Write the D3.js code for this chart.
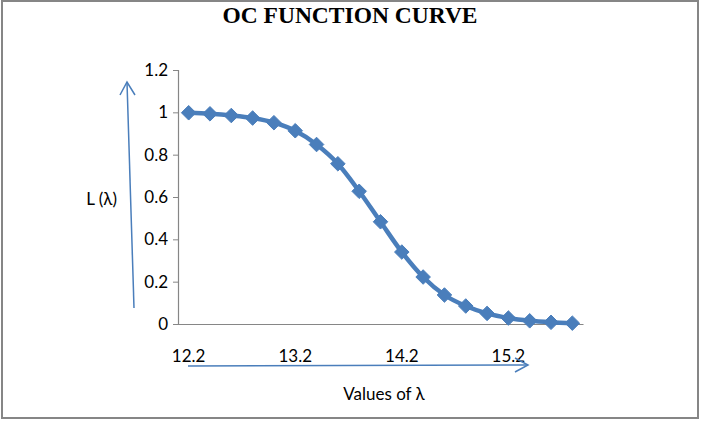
<!DOCTYPE html>
<html>
<head>
<meta charset="utf-8">
<script src="https://cdn.jsdelivr.net/npm/d3@7"></script>
<style>
  body { margin: 0; background: #fff; }
  svg { display: block; }
</style>
</head>
<body>
<div id="chart"></div>
<script>
// lambda values (categories) and probability of acceptance L(lambda)
const lambdas = [12.2, 12.4, 12.6, 12.8, 13.0, 13.2, 13.4, 13.6, 13.8, 14.0,
                 14.2, 14.4, 14.6, 14.8, 15.0, 15.2, 15.4, 15.6, 15.8];
const acceptance = [0.998, 0.993, 0.985, 0.973, 0.951, 0.913, 0.848, 0.757, 0.627, 0.483,
                    0.340, 0.222, 0.137, 0.085, 0.050, 0.028, 0.015, 0.008, 0.004];
const xTickLabels = ["12.2", "13.2", "14.2", "15.2"];
const yTicks = [0, 0.2, 0.4, 0.6, 0.8, 1, 1.2];

const width = 702, height = 424;
const plot = { left: 178, right: 583, top: 70, bottom: 324 };
const blue = "#4a7ebb";
const font = "Lato, 'Open Sans', sans-serif";
const fontSize = "17px";

const svg = d3.select("#chart").append("svg")
  .attr("width", width)
  .attr("height", height);

// outer chart border
svg.append("rect")
  .attr("x", 2).attr("y", 1)
  .attr("width", 696).attr("height", 417)
  .attr("fill", "#fff")
  .attr("stroke", "#868686")
  .attr("stroke-width", 2);

svg.append("text")
  .attr("x", 350).attr("y", 23)
  .attr("text-anchor", "middle")
  .style("font-family", "'Liberation Serif', 'Times New Roman', serif")
  .style("font-weight", "bold")
  .style("font-size", "23.5px")
  .text("OC FUNCTION CURVE");

const x = d3.scaleBand()
  .domain(lambdas.map(String))
  .range([plot.left, plot.right]);

const y = d3.scaleLinear()
  .domain([0, 1.2])
  .range([plot.bottom, plot.top]);

// y axis
const yAxis = svg.append("g")
  .attr("transform", `translate(${plot.left},0)`)
  .call(d3.axisLeft(y).tickValues(yTicks).tickSize(5).tickPadding(5)
    .tickFormat(d => d3.format("")(d)));
yAxis.select(".domain").attr("stroke", "#868686").attr("stroke-width", 1.2);
yAxis.selectAll(".tick line").attr("stroke", "#868686");
yAxis.selectAll("text")
  .style("font-family", font)
  .style("font-size", fontSize)
  .attr("fill", "#000");

// x axis (category, labelled every 5th point)
const xAxis = svg.append("g")
  .attr("transform", `translate(0,${plot.bottom})`)
  .call(d3.axisBottom(x).tickSize(0).tickPadding(26)
    .tickFormat(d => xTickLabels.includes(d3.format(".1f")(+d)) ? d3.format(".1f")(+d) : ""));
xAxis.select(".domain").attr("stroke", "#868686").attr("stroke-width", 1.2);
xAxis.selectAll("text")
  .style("font-family", font)
  .style("font-size", fontSize)
  .attr("fill", "#000");

// the curve
const line = d3.line()
  .x((d, i) => x(String(lambdas[i])) + x.bandwidth() / 2)
  .y(d => y(d))
  .curve(d3.curveMonotoneX);

svg.append("path")
  .datum(acceptance)
  .attr("fill", "none")
  .attr("stroke", blue)
  .attr("stroke-width", 4.5)
  .attr("d", line);

svg.selectAll("path.marker")
  .data(acceptance)
  .enter()
  .append("path")
  .attr("class", "marker")
  .attr("d", d3.symbol(d3.symbolDiamond2, 135)())
  .attr("transform", (d, i) => `translate(${x(String(lambdas[i])) + x.bandwidth() / 2},${y(d)})`)
  .attr("fill", blue)
  .attr("stroke", blue)
  .attr("stroke-width", 1);

// hand-drawn style arrows beside the axes
const arrow = svg.append("g")
  .attr("fill", "none")
  .attr("stroke", blue)
  .attr("stroke-width", 1.5);
arrow.append("line").attr("x1", 134).attr("y1", 308).attr("x2", 127).attr("y2", 82);
arrow.append("polyline").attr("points", "120,95 127,82 135,95");
arrow.append("line").attr("x1", 188).attr("y1", 366).attr("x2", 528).attr("y2", 365);
arrow.append("polyline").attr("points", "515,358 528,365 515,372");

// axis titles
svg.append("text")
  .attr("x", 117).attr("y", 205)
  .attr("text-anchor", "end")
  .style("font-family", font)
  .style("font-size", fontSize)
  .text("L (λ)");

svg.append("text")
  .attr("x", 384).attr("y", 400)
  .attr("text-anchor", "middle")
  .style("font-family", font)
  .style("font-size", fontSize)
  .text("Values of λ");
</script>
</body>
</html>
